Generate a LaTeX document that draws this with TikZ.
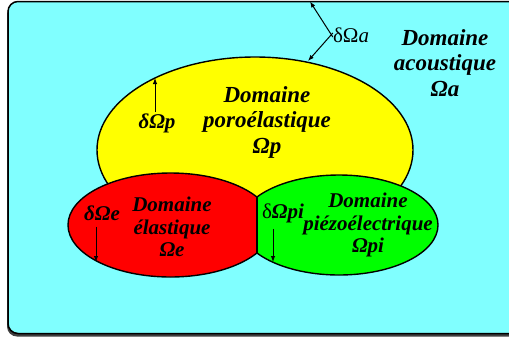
\documentclass[tikz,border=0pt]{standalone}
\usepackage{fontspec}
\setmainfont{Liberation Serif}
\usetikzlibrary{shapes.geometric,arrows.meta}
\definecolor{cyanbg}{RGB}{128,255,255}
\definecolor{yelbg}{RGB}{255,255,0}
\definecolor{redbg}{RGB}{255,0,0}
\definecolor{grnbg}{RGB}{0,255,0}
\begin{document}
\begin{tikzpicture}[x=1pt,y=-1pt,
  dom/.style={ellipse, draw=black, line width=1.4pt, inner sep=0pt, outer sep=0pt},
  txtbig/.style={font=\fontsize{23}{25.5}\selectfont\bfseries\itshape, align=center, text=black, inner sep=0pt},
  txtsm/.style={font=\fontsize{21}{22.5}\selectfont\bfseries\itshape, align=center, text=black, inner sep=0pt},
  lab/.style={font=\fontsize{21}{22}\selectfont\bfseries\itshape, text=black, inner sep=0pt},
  arr/.style={-{Latex[length=6pt,width=4.5pt]}, line width=1pt}]
\useasboundingbox (0,0) rectangle (509,341);
\clip (0,0) rectangle (509,341);
% background box with shadow
\fill[black!75, rounded corners=10pt] (7,4) rectangle (530,336.5);
\draw[fill=cyanbg, line width=1.5pt, rounded corners=10pt] (8,1.5) rectangle (530,333.5);
% domains
\node[dom, fill=yelbg, minimum width=316pt, minimum height=186pt] (yel) at (255,150) {};
\begin{scope}
  \clip (257,0) rectangle (509,341);
  \node[dom, fill=grnbg, minimum width=198pt, minimum height=100pt] (grn) at (339,225) {};
\end{scope}
\begin{scope}
  \clip (0,0) rectangle (257,341);
  \node[dom, fill=redbg, minimum width=205pt, minimum height=104pt] (red) at (170.5,225) {};
\end{scope}
\coordinate (divT) at (257,197);
\coordinate (divB) at (257,253);
\draw[line width=1.4pt] (divT) -- (divB);
% texts
\node[txtbig] (tA) at (445,63) {Domaine\\acoustique\\Ωa};
\node[txtbig] (tP) at (267,122) {Domaine\\poroélastique\\Ωp};
\node[txtsm] (tE) at (172,227) {Domaine\\élastique\\Ωe};
\node[txtsm] (tPi) at (368,225) {Domaine\\piézoélectrique\\Ωpi};
% boundary labels
\node[font=\fontsize{21}{22}\selectfont, text=black, inner sep=0pt] (dA) at (351,35) {δΩ\textit{a}};
\node[lab] (dP) at (157,123) {δΩp};
\node[lab] (dE) at (102,213) {δΩe};
\node[lab] (dPi) at (283,213) {{\mdseries\upshape δ}Ωpi};
% arrows
\coordinate (topE) at (310,1.5);
\coordinate (yelT) at (308,61);
\draw[arr] ([yshift=-2pt]dA.west) -- (topE);
\draw[arr] ([yshift=2pt]dA.west) -- (yelT);
\coordinate (pT) at (155,78);
\draw[arr, shorten <=1pt] (dP.north -| pT) -- (pT);
\coordinate (eB) at (96,262);
\draw[arr, shorten <=6pt] (dE.south -| eB) -- (eB);
\coordinate (piB) at (273,262);
\draw[arr, shorten <=6pt] (dPi.south -| piB) -- (piB);
\end{tikzpicture}
\end{document}
